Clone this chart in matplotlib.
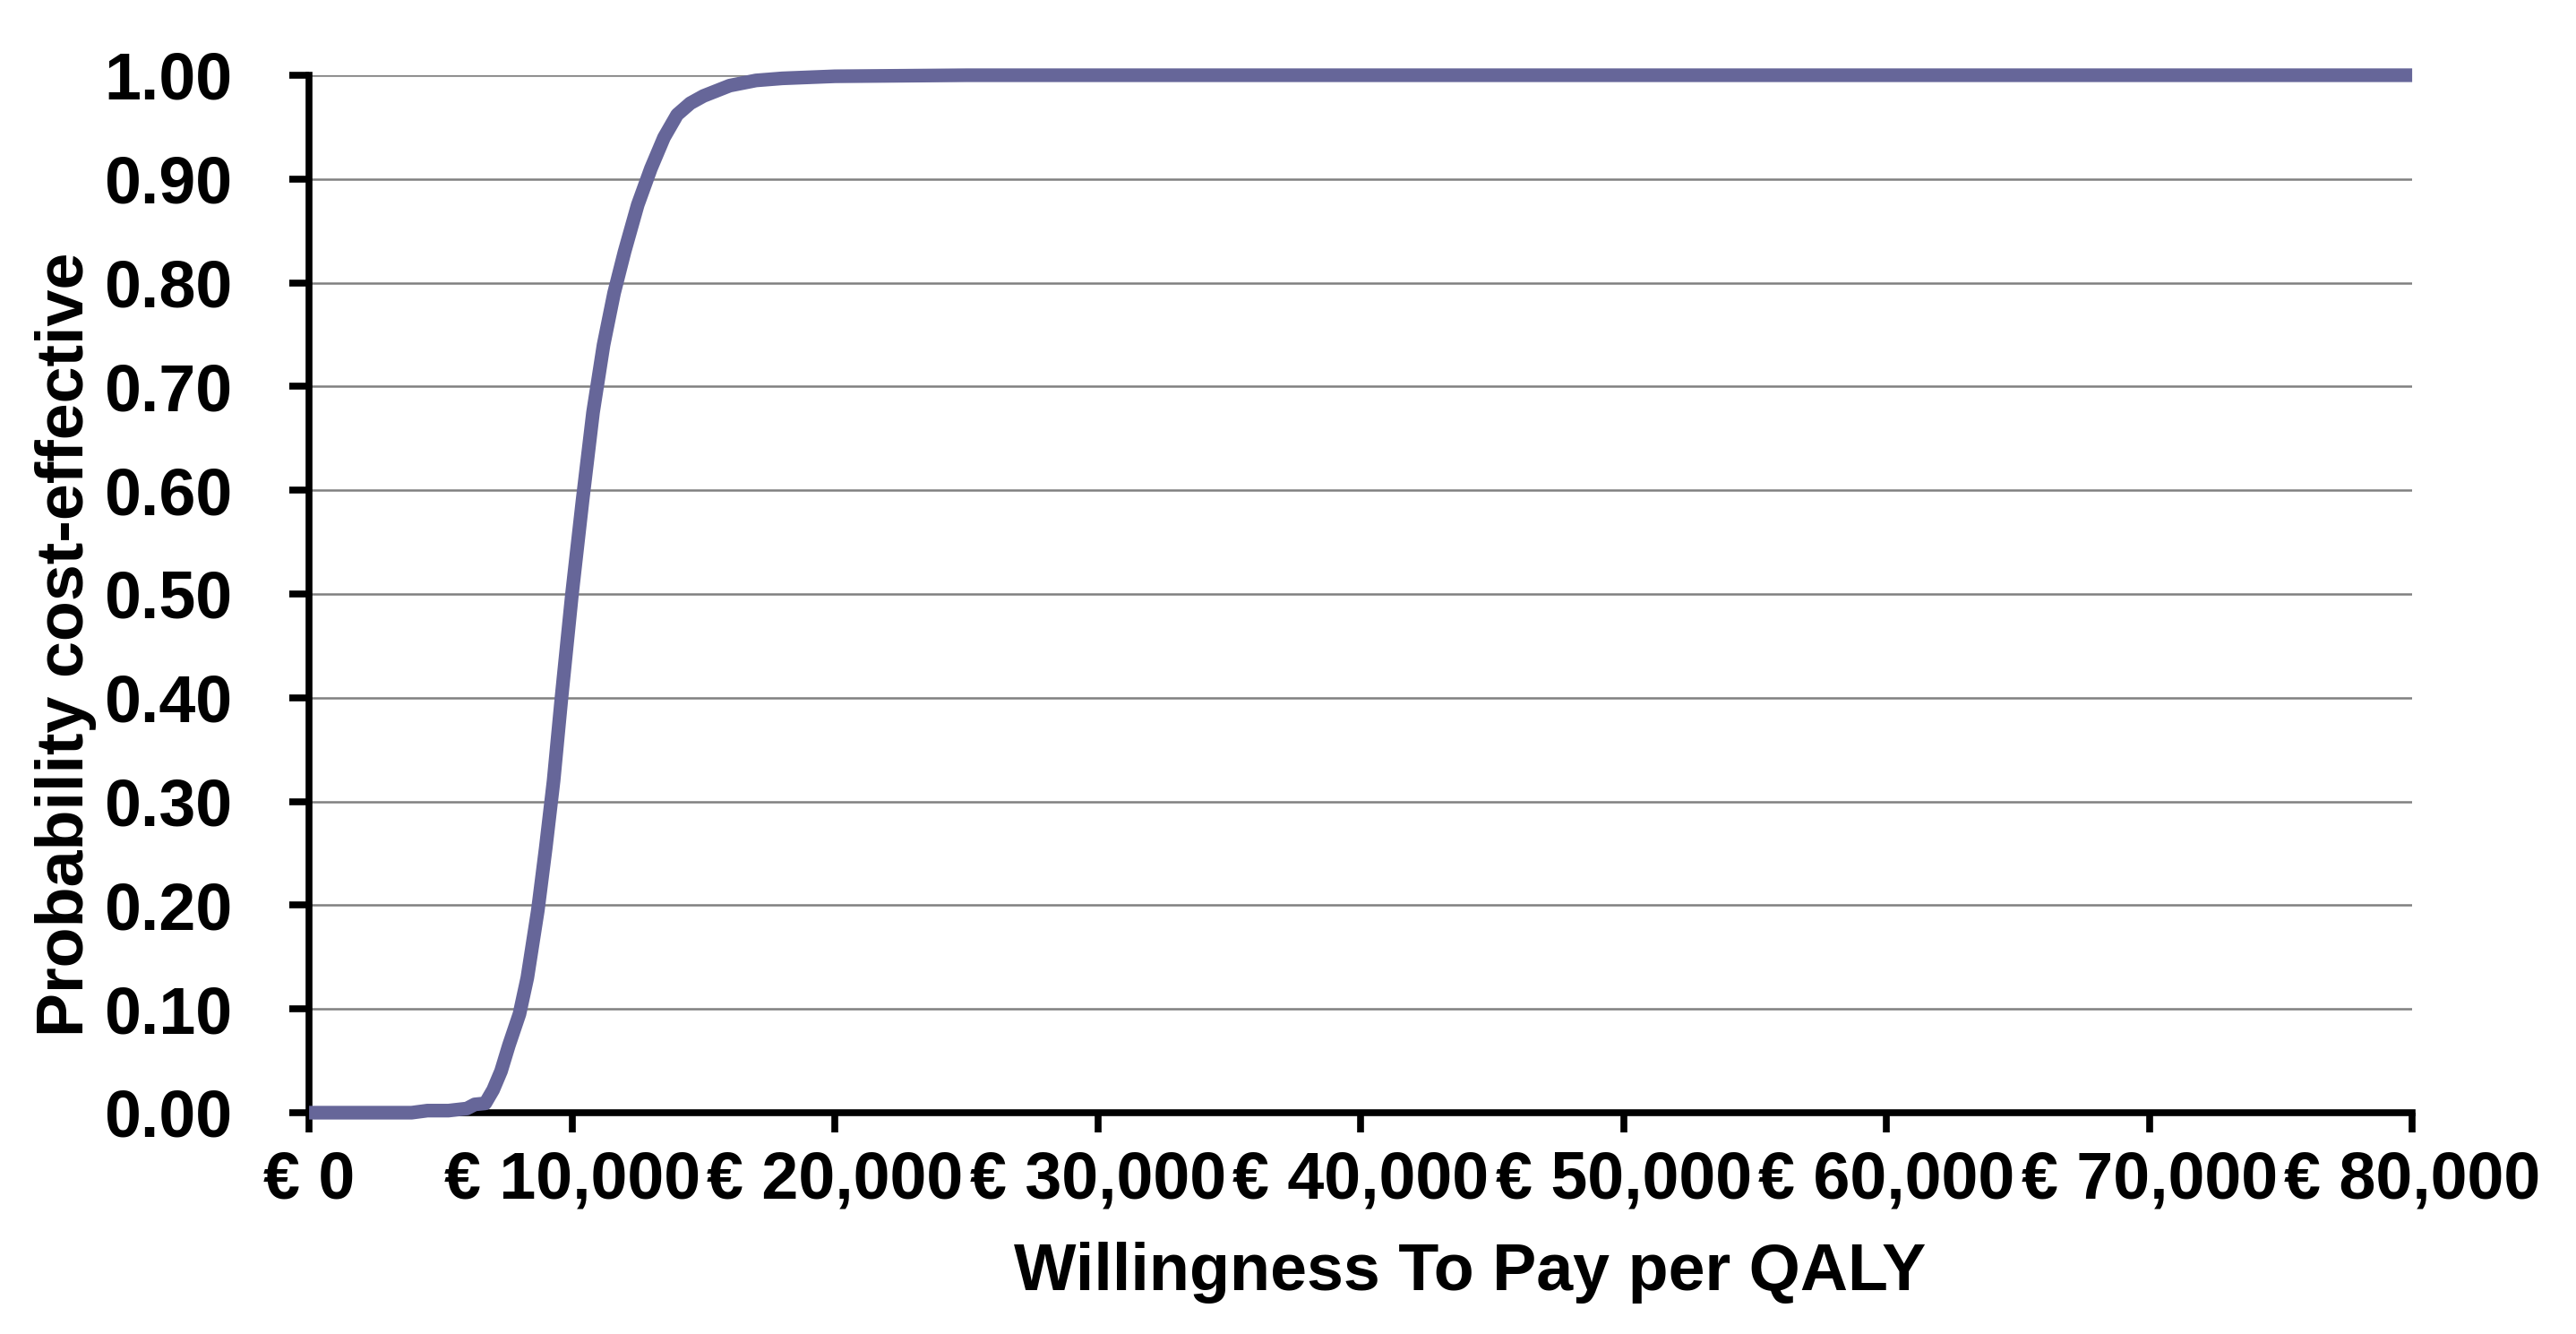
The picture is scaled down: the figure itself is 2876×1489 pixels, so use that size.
import numpy as np
import matplotlib
matplotlib.use("Agg")
import matplotlib.pyplot as plt

plt.rcParams['font.family'] = ['Liberation Sans', 'DejaVu Sans']
plt.rcParams['font.weight'] = 'bold'

# willingness to pay (euro) and probability cost-effective
wtp = [0, 1000, 2000, 3000, 3900, 4500, 5300, 6000, 6300, 6700, 7000,
       7300, 7600, 8000, 8300, 8700, 9000, 9300, 9600, 10000, 10400,
       10800, 11200, 11600, 12000, 12500, 13000, 13500, 14000, 14500,
       15000, 16000, 17000, 18000, 20000, 25000, 30000, 40000, 50000,
       60000, 70000, 80000]
prob = [0.0, 0.0, 0.0, 0.0, 0.0, 0.002, 0.002, 0.004, 0.008, 0.009, 0.022,
        0.04, 0.065, 0.095, 0.13, 0.195, 0.255, 0.32, 0.40, 0.50, 0.59,
        0.675, 0.74, 0.79, 0.83, 0.875, 0.91, 0.94, 0.962, 0.973,
        0.98, 0.99, 0.995, 0.997, 0.999, 1.0, 1.0, 1.0, 1.0,
        1.0, 1.0, 1.0]

x_ticks = [0, 10000, 20000, 30000, 40000, 50000, 60000, 70000, 80000]
x_tick_labels = ['€ 0', '€ 10,000', '€ 20,000', '€ 30,000', '€ 40,000',
                 '€ 50,000', '€ 60,000', '€ 70,000', '€ 80,000']
y_ticks = [0.0, 0.1, 0.2, 0.3, 0.4, 0.5, 0.6, 0.7, 0.8, 0.9, 1.0]

fig = plt.figure(figsize=(28.76, 14.89), dpi=100)
ax = fig.add_axes([0.12, 0.1659, 0.8164, 0.7777])

ax.plot(wtp, prob, color='#666699', lw=11, solid_joinstyle='round',
        solid_capstyle='butt', zorder=3, clip_on=False)

ax.set_xlim(0, 80000)
ax.set_ylim(0, 1.0)
ax.set_xticks(x_ticks)
ax.set_xticklabels(x_tick_labels)
ax.set_yticks(y_ticks)
ax.set_yticklabels(['%.2f' % v for v in y_ticks])

# horizontal grid only
for v in y_ticks[1:]:
    ax.axhline(v, color='#808080', lw=1.8, zorder=1)

for s in ['top', 'right']:
    ax.spines[s].set_visible(False)
for s in ['left', 'bottom']:
    ax.spines[s].set_linewidth(5.5)
    ax.spines[s].set_color('black')
    ax.spines[s].set_zorder(2)

ax.tick_params(axis='both', direction='out', length=16, width=5.5,
               labelsize=53, colors='black')
ax.tick_params(axis='y', pad=46)
ax.tick_params(axis='x', pad=14)

fig.text(0.5706, 0.046, 'Willingness To Pay per QALY', ha='center',
         va='center', fontsize=53, fontweight='bold')
fig.text(0.0254, 0.517, 'Probability cost-effective', ha='center',
         va='center', rotation=90, fontsize=53, fontweight='bold')

fig.savefig('out.png', dpi=100)
